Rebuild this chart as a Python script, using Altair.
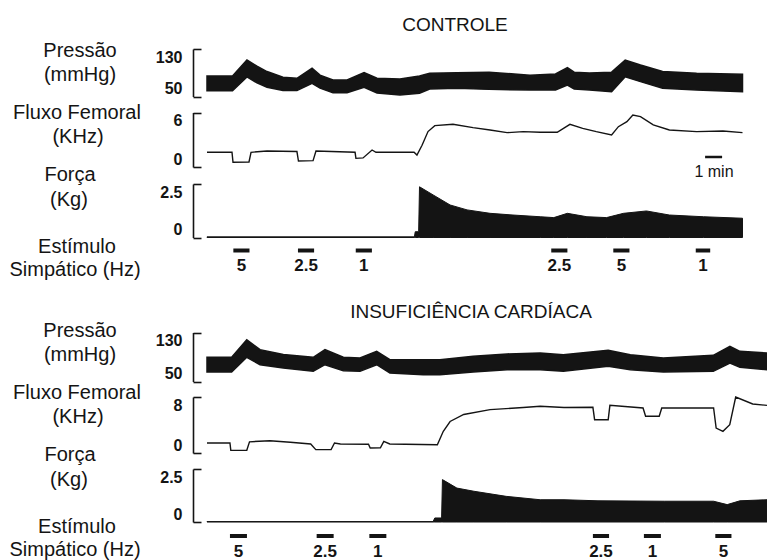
import altair as alt
import pandas as pd

W, H = 767, 560
INK = "#141414"
FONT = "Liberation Sans"

# ---------------- CONTROLE (top panel) : time in minutes ----------------
c_p_t = [0, 1.5, 2.35, 2.94, 3.53, 4.47, 5.29, 6.18, 6.65, 7.41, 8.24, 9.24, 10.0, 11.35, 12.5, 13.1,
         14.7, 16.6, 19.0, 20.5, 21.2, 21.6, 22.5, 23.8, 24.6, 25.5, 26.8, 28.8, 31.5]
c_p_hi = [84.5, 84.5, 111.5, 101, 92, 82.3, 80.7, 97.5, 86, 78, 78, 90.5, 80.7, 79.5, 84.5, 89,
          90, 91, 86, 88, 98.5, 91, 89.6, 91, 111.5, 103, 92, 89, 87.4]
c_p_lo = [59.8, 59.8, 83, 73, 65.5, 60, 60, 72, 64, 56.5, 56.5, 65.5, 56, 52.5, 55.4, 62.6,
          64, 62, 61, 61, 69.4, 62.6, 61, 58, 83.4, 75, 64, 61, 58]

c_f_t = [0, 1.47, 1.53, 2.47, 2.59, 3.53, 5.29, 5.38, 6.24, 6.41, 8.71, 8.76, 9.18, 9.71, 9.94,
         12.18, 12.35, 12.65, 13.0, 13.4, 14.47, 15.65, 16.65, 17.65, 18.6, 19.6, 20.6, 21.35,
         22.1, 22.9, 23.8, 24.2, 24.7, 25.05, 25.5, 26.25, 27.2, 28.8, 30.35, 31.5]
c_f_v = [1.62, 1.62, 0.52, 0.55, 1.62, 1.76, 1.7, 0.66, 0.7, 1.76, 1.62, 0.95, 1.0, 1.87, 1.62,
         1.62, 1.32, 2.4, 3.9, 4.55, 4.7, 4.33, 4.07, 3.78, 3.89, 3.82, 3.82, 4.7,
         4.26, 3.89, 3.52, 4.44, 4.99, 5.73, 5.54, 4.63, 4.07, 3.89, 3.96, 3.78]

c_k_t = [0, 12.2, 12.25, 12.45, 12.5, 13.3, 14.3, 15.3, 16.65, 18.0, 19.6, 20.4, 21.2, 22.35,
         23.5, 24.5, 25.85, 27.2, 29.2, 31.5]
c_k_v = [0.03, 0.03, 0.27, 0.27, 2.37, 1.99, 1.52, 1.29, 1.13, 1.05, 0.97, 0.93, 1.13, 0.97,
         0.93, 1.13, 1.24, 1.05, 0.97, 0.9]

c_s_start = [1.55, 5.35, 8.75, 20.25, 23.9, 28.75]
c_s_end = [2.5, 6.3, 9.7, 21.2, 24.85, 29.6]
c_s_label = ["5", "2.5", "1", "2.5", "5", "1"]

# ---------------- INSUFICIÊNCIA CARDÍACA (bottom panel) ----------------
i_p_t = [0, 1.45, 2.34, 3.12, 4.49, 6.25, 6.94, 8.02, 9.0, 9.98, 10.76, 12.72, 13.7, 15.66,
         17.65, 19.6, 20.96, 23.6, 24.9, 26.84, 29.78, 30.76, 31.35, 32.94]
i_p_hi = [89.5, 89.5, 118, 102, 94, 89.5, 102, 89.5, 88.4, 99.3, 85.6, 85.6, 85.6, 91.1,
          95, 96.5, 93.7, 101, 93.7, 88.4, 92.8, 107.5, 99.3, 96.5]
i_p_lo = [65.5, 65.5, 89.5, 77.4, 72, 66.6, 77.4, 67.6, 66.6, 77.4, 63.9, 61.1, 61.1, 65.5,
          69.3, 69.3, 66.6, 74.8, 69.3, 65.5, 66.6, 80.2, 73.2, 69.3]

i_f_t = [0, 1.35, 1.4, 2.34, 2.5, 3.7, 4.9, 6.1, 6.4, 7.3, 7.5, 7.85, 9.5, 9.6, 10.2, 10.4,
         10.75, 13.55, 13.9, 14.3, 15.1, 16.65, 18.6, 19.6, 21.0, 22.7, 22.8, 23.6, 23.7,
         25.65, 25.8, 26.6, 26.75, 29.8, 29.95, 30.35, 30.75, 31.1, 32.1, 32.94]
i_f_v = [1.43, 1.43, 0.38, 0.4, 1.6, 1.76, 1.53, 1.29, 0.48, 0.5, 1.43, 1.29, 1.25, 0.71, 0.75,
         1.67, 1.29, 1.19, 3.1, 4.5, 5.5, 6.2, 6.5, 6.67, 6.5, 6.53, 4.76, 4.76, 6.81,
         6.43, 5.24, 5.24, 6.43, 6.43, 3.57, 3.1, 4.05, 8.0, 7.0, 6.8]

i_k_t = [0, 13.3, 13.4, 13.8, 13.85, 14.7, 15.7, 17.6, 19.6, 21.0, 23.0, 26.9, 29.8, 30.6,
         31.35, 32.94]
i_k_v = [0.02, 0.02, 0.19, 0.19, 2.0, 1.6, 1.45, 1.21, 1.05, 1.05, 1.0, 0.98, 0.98, 0.82,
         1.0, 1.05]

i_s_start = [1.35, 6.45, 9.55, 22.7, 25.7, 29.9]
i_s_end = [2.35, 7.45, 10.55, 23.65, 26.7, 30.85]
i_s_label = ["5", "2.5", "1", "2.5", "1", "5"]

# scale bar
bar_min = [29.3, 30.3]

# axis ticks
p_ticks = [50, 130]
c_f_ticks = [0, 6]
i_f_ticks = [0, 8]
k_ticks = [0, 2.5]

# ---------------- helpers ----------------
X_SCALE = alt.Scale(domain=[0, 33], range=[207, 768], nice=False, zero=False)
BRACKET_X = 193


def bracket_axis(values):
    return alt.Axis(orient="right", offset=BRACKET_X - W, values=values,
                    labelExpr="datum.value + ''",
                    domain=True, domainColor=INK, domainWidth=1.6,
                    ticks=True, tickSize=8, tickColor=INK, tickWidth=1.6,
                    labelAlign="right", labelPadding=-19, labelFlush=True,
                    labelFont=FONT, labelFontSize=16, labelFontWeight="bold",
                    labelColor=INK, title=None, grid=False)


def yscale(domain, rng):
    return alt.Scale(domain=domain, range=rng, nice=False, zero=False)


def band(t, hi, lo, domain, rng, ticks):
    df = pd.DataFrame({"t": t, "hi": hi, "lo": lo})
    return alt.Chart(df).mark_area(color=INK, stroke=INK, strokeWidth=1.5).encode(
        x=alt.X("t:Q", scale=X_SCALE, axis=None),
        y=alt.Y("hi:Q", scale=yscale(domain, rng), axis=bracket_axis(ticks)),
        y2="lo:Q")


def line(t, v, domain, rng, ticks):
    df = pd.DataFrame({"t": t, "v": v})
    return alt.Chart(df).mark_line(color=INK, strokeWidth=1.4).encode(
        x=alt.X("t:Q", scale=X_SCALE, axis=None),
        y=alt.Y("v:Q", scale=yscale(domain, rng), axis=bracket_axis(ticks)))


def area(t, v, domain, rng, ticks):
    df = pd.DataFrame({"t": t, "v": v})
    return alt.Chart(df).mark_area(color=INK, stroke=INK, strokeWidth=1.0).encode(
        x=alt.X("t:Q", scale=X_SCALE, axis=None),
        y=alt.Y("v:Q", scale=yscale(domain, rng), axis=bracket_axis(ticks)))


def stim(starts, ends, labels, ybar, ylab):
    df = pd.DataFrame({"start": starts, "end": ends, "label": labels})
    bars = alt.Chart(df).mark_rule(color=INK, strokeWidth=4).encode(
        x=alt.X("start:Q", scale=X_SCALE, axis=None), x2="end:Q", y=alt.value(ybar))
    labs = alt.Chart(df).transform_calculate(mid="(datum.start + datum.end) / 2").mark_text(
        font=FONT, fontSize=17, fontWeight="bold", color=INK, baseline="middle").encode(
        x=alt.X("mid:Q", scale=X_SCALE, axis=None), y=alt.value(ylab), text="label:N")
    return [bars, labs]


def txt(s, x, y, size=20, weight="normal"):
    return alt.Chart(pd.DataFrame({"s": [s]})).mark_text(
        font=FONT, fontSize=size, fontWeight=weight, color=INK, align="center",
        baseline="middle").encode(x=alt.value(x), y=alt.value(y), text="s:N")


layers = [
    band(c_p_t, c_p_hi, c_p_lo, [50, 130], [96.5, 49], p_ticks),
    line(c_f_t, c_f_v, [0, 6], [167, 112.5], c_f_ticks),
    area(c_k_t, c_k_v, [0, 2.5], [237.5, 184], k_ticks),
    band(i_p_t, i_p_hi, i_p_lo, [50, 130], [381.5, 332.5], p_ticks),
    line(i_f_t, i_f_v, [0, 8], [453, 397], i_f_ticks),
    area(i_k_t, i_k_v, [0, 2.5], [522, 469], k_ticks),
]
layers += stim(c_s_start, c_s_end, c_s_label, 250.5, 266)
layers += stim(i_s_start, i_s_end, i_s_label, 536, 551.5)

# 1 min scale bar
layers.append(alt.Chart(pd.DataFrame({"a": [bar_min[0]], "b": [bar_min[1]]})).mark_rule(
    color=INK, strokeWidth=2.5).encode(
    x=alt.X("a:Q", scale=X_SCALE, axis=None), x2="b:Q", y=alt.value(157)))
layers.append(txt("1 min", 714, 172, size=16))

# titles
layers.append(txt("CONTROLE", 455, 25, size=19))
layers.append(txt("INSUFICIÊNCIA CARDÍACA", 471, 312, size=19))

# left labels
for dy in (0, 280):
    layers += [
        txt("Pressão", 80, 51 + dy), txt("(mmHg)", 80, 75 + dy),
        txt("Fluxo Femoral", 77, 113 + dy), txt("(KHz)", 78, 137 + dy),
        txt("Força", 70, 175 + dy), txt("(Kg)", 69, 200 + dy),
        txt("Estímulo", 77, 247 + dy), txt("Simpático (Hz)", 75, 270 + dy),
    ]

chart = alt.layer(*layers).resolve_scale(y="independent").properties(
    width=W, height=H, padding=0, autosize=alt.AutoSizeParams(type="none"),
    background="white").configure_view(stroke=None)

chart.save("out.html", embed_options={"renderer": "svg", "actions": False})
